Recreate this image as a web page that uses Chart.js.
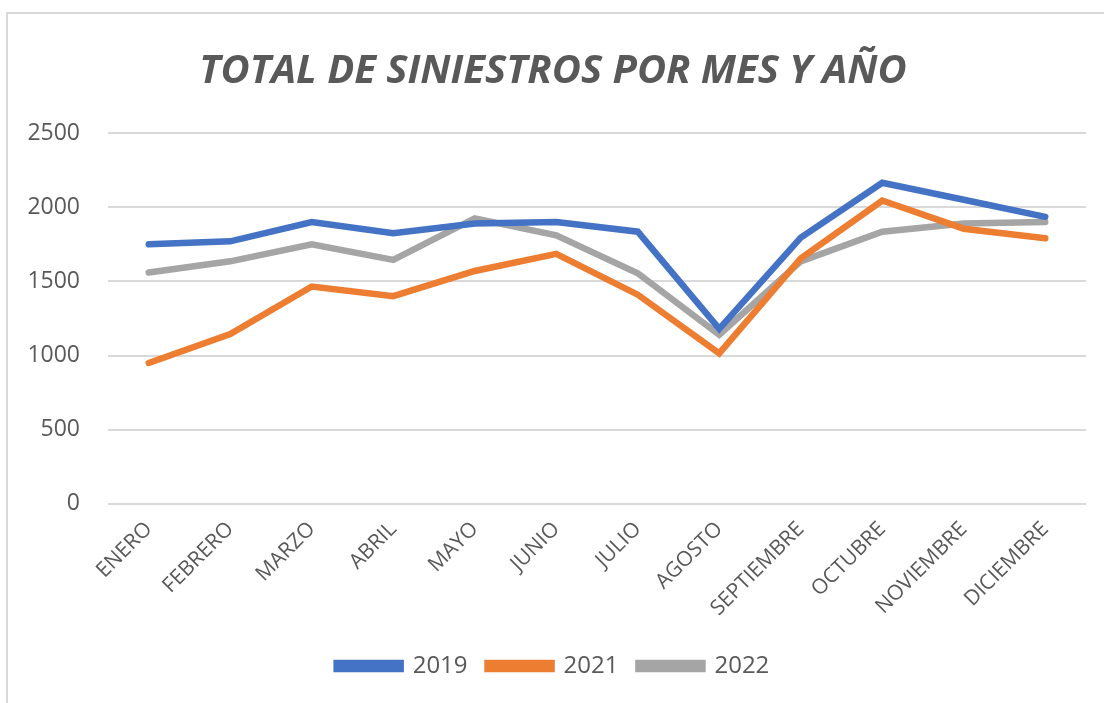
<!DOCTYPE html>
<html>
<head>
<meta charset="utf-8">
<script src="https://cdn.jsdelivr.net/npm/chart.js@4.4.0/dist/chart.umd.min.js"></script>
<style>
    html, body { margin: 0; padding: 0; background: #fff; }
    #frame {
        position: absolute; left: 6px; top: 12px; width: 1098px; height: 691px;
        border-left: 2px solid #d9d9d9; border-top: 2px solid #d9d9d9;
    }
    #wrap { position: absolute; left: 0; top: 0; width: 1098px; height: 691px; }
</style>
</head>
<body>
<div id="frame"><div id="wrap"><canvas id="lineChart"></canvas></div></div>
<script>
// 月份
const months = ['ENERO', 'FEBRERO', 'MARZO', 'ABRIL', 'MAYO', 'JUNIO', 'JULIO', 'AGOSTO', 'SEPTIEMBRE', 'OCTUBRE', 'NOVIEMBRE', 'DICIEMBRE'];

// 每年的数据
const data2019 = [1750, 1770, 1900, 1825, 1890, 1900, 1835, 1180, 1795, 2165, 2050, 1935];
const data2021 = [950, 1145, 1465, 1400, 1570, 1685, 1410, 1015, 1655, 2045, 1855, 1790];
const data2022 = [1560, 1635, 1750, 1645, 1925, 1810, 1555, 1140, 1635, 1835, 1890, 1900];

const yTicks = [0, 500, 1000, 1500, 2000, 2500];

const textColor = '#595959';

function makeSet(label, values, color) {
    return {
        label: label,
        data: values,
        borderColor: color,
        backgroundColor: color,
        borderWidth: 6.5,
        pointRadius: 0,
        tension: 0,
        fill: false,
        borderCapStyle: 'round',
        borderJoinStyle: 'miter'
    };
}

const chart = new Chart(document.getElementById('lineChart'), {
    type: 'line',
    data: {
        labels: months,
        datasets: [
            makeSet('2019', data2019, '#4472C4'),
            makeSet('2021', data2021, '#ED7D31'),
            makeSet('2022', data2022, '#A5A5A5')
        ]
    },
    options: {
        responsive: true,
        maintainAspectRatio: false,
        animation: false,
        layout: { padding: { left: 12, right: 20, top: 20, bottom: 17 } },
        plugins: {
            title: {
                display: true,
                text: 'TOTAL DE SINIESTROS POR MES Y AÑO',
                color: textColor,
                font: { family: 'Open Sans', size: 40, weight: 'bold', style: 'italic' },
                padding: { top: 14, bottom: 37 }
            },
            legend: {
                position: 'bottom',
                labels: {
                    color: textColor,
                    font: { family: 'Open Sans', size: 24 },
                    boxWidth: 64,
                    boxHeight: 6,
                    padding: 20
                }
            },
            tooltip: { enabled: false }
        },
        scales: {
            y: {
                min: 0,
                max: 2500,
                afterBuildTicks: axis => { axis.ticks = yTicks.map(v => ({ value: v })); },
                afterFit: axis => { axis.width = 88; },
                ticks: {
                    color: textColor,
                    font: { family: 'Open Sans', size: 23 },
                    padding: 28,
                    callback: v => String(v)
                },
                grid: { color: '#d9d9d9', lineWidth: 2, drawTicks: false },
                border: { display: false }
            },
            x: {
                offset: true,
                ticks: {
                    color: textColor,
                    font: { family: 'Open Sans', size: 21 },
                    minRotation: 45,
                    maxRotation: 45,
                    padding: 13,
                    autoSkip: false
                },
                grid: { display: false, drawTicks: false },
                border: { display: false }
            }
        }
    }
});
</script>
</body>
</html>
